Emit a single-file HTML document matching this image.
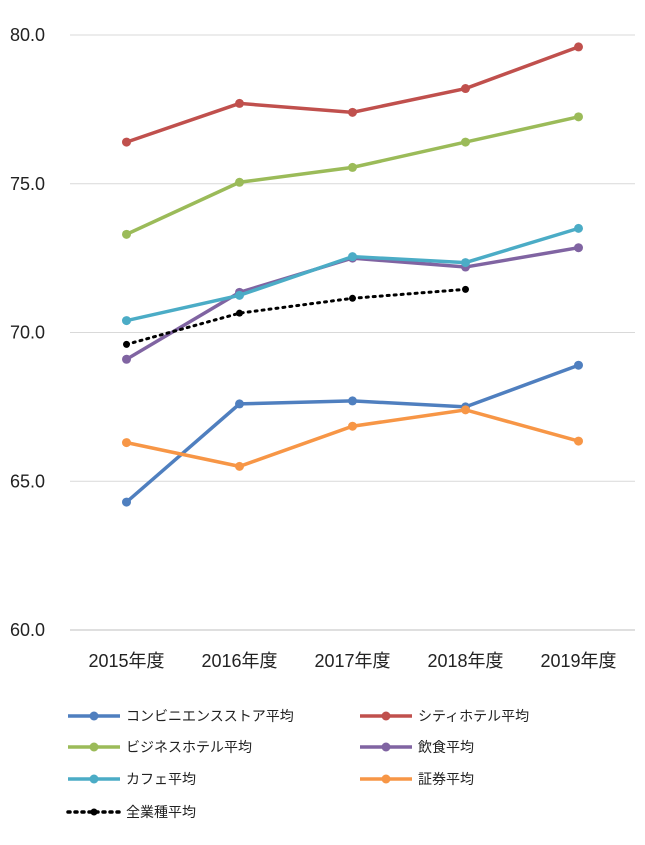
<!DOCTYPE html>
<html><head><meta charset="utf-8">
<style>
body{margin:0;background:#fff;}
svg text{font-family:"Liberation Sans","Noto Sans CJK JP",sans-serif;fill:#222;}
</style></head>
<body>
<svg id="chart" width="645" height="840" xmlns="http://www.w3.org/2000/svg"></svg>
<script>
const categories=["2015年度","2016年度","2017年度","2018年度","2019年度"];
const yTicks=[60,65,70,75,80];
const tickLabels=["60.0","65.0","70.0","75.0","80.0"];
const seriesNames=["コンビニエンスストア平均","シティホテル平均","ビジネスホテル平均","飲食平均","カフェ平均","証券平均","全業種平均"];
const convenience=[64.3,67.6,67.7,67.5,68.9];
const cityHotel=[76.4,77.7,77.4,78.2,79.6];
const businessHotel=[73.3,75.05,75.55,76.4,77.25];
const restaurant=[69.1,71.35,72.5,72.2,72.85];
const cafe=[70.4,71.25,72.55,72.35,73.5];
const securities=[66.3,65.5,66.85,67.4,66.35];
const allIndustry=[69.6,70.65,71.15,71.45];
const colors=["#4f7fbf","#c0504d","#9bbb59","#8064a2","#4bacc6","#f79646","#000"];
const allSeries=[convenience,cityHotel,businessHotel,restaurant,cafe,securities,allIndustry];
const NS="http://www.w3.org/2000/svg";
const svg=document.getElementById('chart');
const L=70,R=635,T=35,B=630;
const x=i=>L+(R-L)/categories.length*(i+0.5);
const y=v=>B-(v-60)/20*(B-T);
function mk(tag,attrs){const e=document.createElementNS(NS,tag);for(const k in attrs)e.setAttribute(k,attrs[k]);svg.appendChild(e);return e;}
yTicks.forEach((t,i)=>{
  const g=mk('line',{x1:L,x2:R,y1:y(t),y2:y(t),stroke:i==0?'#bfbfbf':'#d9d9d9','stroke-width':1});
  
  
  const tx=mk('text',{x:45,y:y(t)+6,'text-anchor':'end','font-size':18});
  tx.textContent=tickLabels[i];
  
  
});
categories.forEach((c,i)=>{
  const tx=mk('text',{x:x(i),y:667,'text-anchor':'middle','font-size':18});
  tx.textContent=c;
  
  
});
allSeries.forEach((s,k)=>{
  const dotted=k==6;
  const p=mk('polyline',{points:s.map((v,i)=>x(i)+','+y(v)).join(' '),fill:'none',stroke:colors[k],'stroke-width':dotted?3:3.5,'stroke-dasharray':dotted?'2 5':'none','stroke-linecap':dotted?'round':'butt'});
  
  
  s.forEach((v,i)=>{
    const c=mk('circle',{cx:x(i),cy:y(v),r:dotted?3.5:4.5,fill:colors[k]});
    
    
  });
});
const legendPos=[[68,716],[360,716],[68,747],[360,747],[68,779],[360,779],[68,812]];
seriesNames.forEach((n,k)=>{
  const [lx,ly]=legendPos[k];const dotted=k==6;
  const l=mk('line',{x1:lx,x2:lx+52,y1:ly,y2:ly,stroke:colors[k],'stroke-width':3.5,'stroke-dasharray':dotted?'2 5':'none','stroke-linecap':dotted?'round':'butt'});
  
  
  const c=mk('circle',{cx:lx+26,cy:ly,r:dotted?3.5:4.5,fill:colors[k]});
  
  
  const t=mk('text',{x:lx+58,y:ly+5,'font-size':14});
  t.textContent=n;
  
  
});
</script>
</body></html>
